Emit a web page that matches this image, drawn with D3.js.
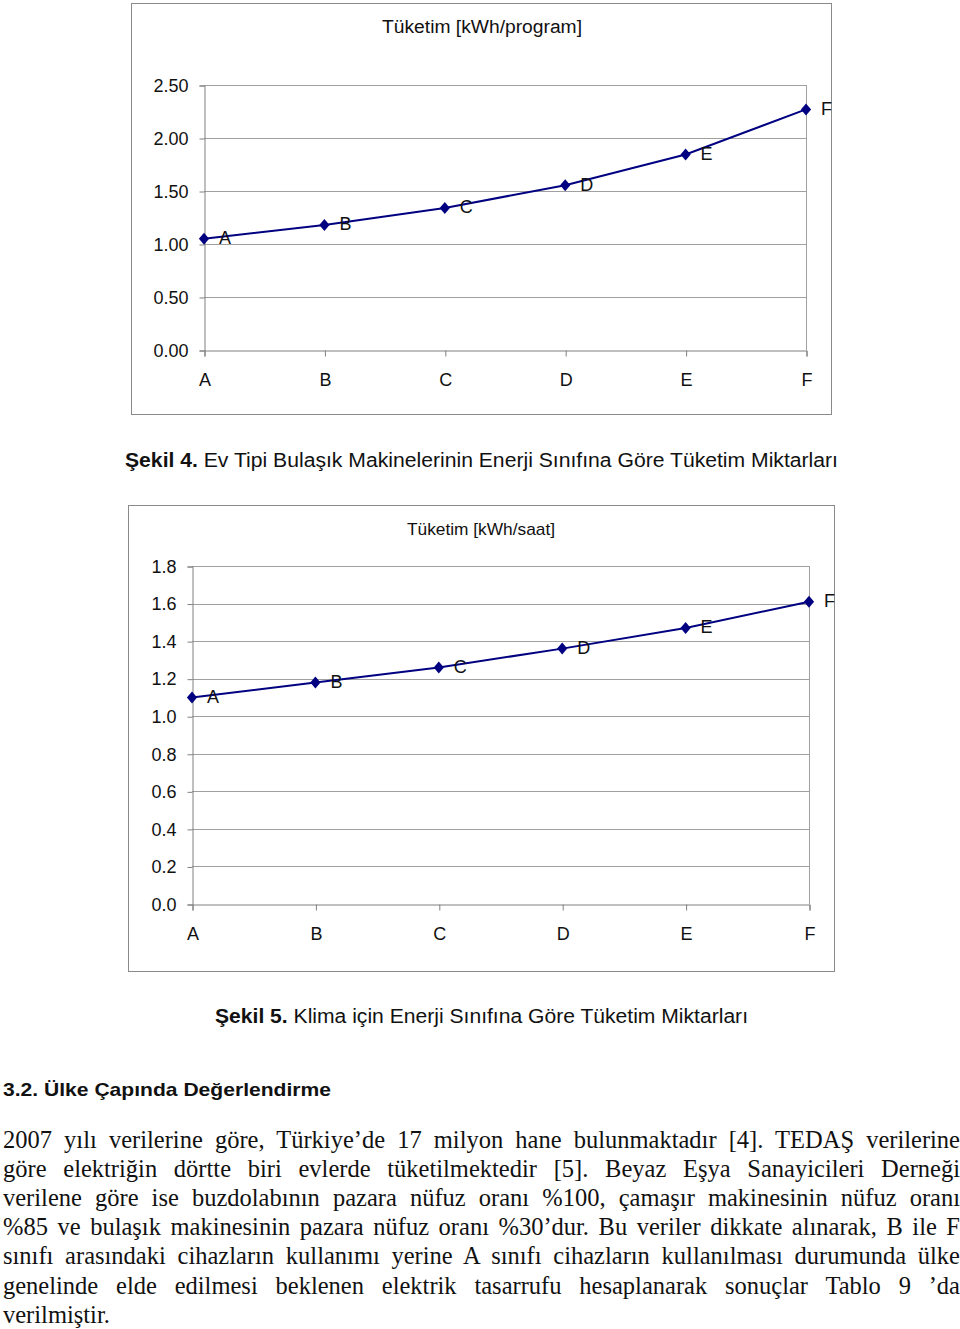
<!DOCTYPE html>
<html><head><meta charset="utf-8">
<script src="https://cdn.jsdelivr.net/npm/d3@7"></script>
<style>body{margin:0;background:#fff;}svg{display:block;}</style>
</head><body>
<svg id="page" width="960" height="1329"></svg>
<script>
const categories = ["A","B","C","D","E","F"];
const dishwasherValues = [1.05, 1.18, 1.34, 1.555, 1.845, 2.27];
const dishwasherTicks = [0, 0.5, 1.0, 1.5, 2.0, 2.5];
const acValues = [1.10, 1.18, 1.26, 1.36, 1.47, 1.61];
const acTicks = [0, 0.2, 0.4, 0.6, 0.8, 1.0, 1.2, 1.4, 1.6, 1.8];

const caption4 = ["Şekil 4.", " Ev Tipi Bulaşık Makinelerinin Enerji Sınıfına Göre Tüketim Miktarları"];
const caption5 = ["Şekil 5.", " Klima için Enerji Sınıfına Göre Tüketim Miktarları"];
const heading = "3.2. Ülke Çapında Değerlendirme";
const paragraph = [
 "2007 yılı verilerine göre, Türkiye’de 17 milyon hane bulunmaktadır [4]. TEDAŞ verilerine",
 "göre elektriğin dörtte biri evlerde tüketilmektedir [5]. Beyaz Eşya Sanayicileri Derneği",
 "verilene göre ise buzdolabının pazara nüfuz oranı %100, çamaşır makinesinin nüfuz oranı",
 "%85 ve bulaşık makinesinin pazara nüfuz oranı %30’dur. Bu veriler dikkate alınarak, B ile F",
 "sınıfı arasındaki cihazların kullanımı yerine A sınıfı cihazların kullanılması durumunda ülke",
 "genelinde elde edilmesi beklenen elektrik tasarrufu hesaplanarak sonuçlar Tablo 9 ’da",
 "verilmiştir."
];

const svg = d3.select("#page");
const sans = "'Liberation Sans', Arial, sans-serif";
const serif = "'Liberation Serif', 'Times New Roman', serif";

const diamondType = {
  draw(ctx, size) {
    const h = Math.sqrt(size) / 2;
    const w = h * 0.85;
    ctx.moveTo(0, -h); ctx.lineTo(w, 0); ctx.lineTo(0, h); ctx.lineTo(-w, 0); ctx.closePath();
  }
};

function chart(cfg) {
  const g = svg.append("g");
  g.append("rect").attr("x", cfg.box[0]+0.5).attr("y", cfg.box[1]+0.5)
    .attr("width", cfg.box[2]).attr("height", cfg.box[3])
    .attr("fill", "#fff").attr("stroke", "#8a8a8a").attr("stroke-width", 1);
  const x = d3.scalePoint().domain(categories).range([cfg.left, cfg.right]).padding(0);
  const y = d3.scaleLinear().domain([0, cfg.max]).range([cfg.bottom, cfg.top]);
  g.append("g").selectAll("line").data(cfg.ticks.slice(1)).join("line")
    .attr("x1", cfg.left).attr("x2", cfg.right)
    .attr("y1", d => Math.round(y(d))+0.5).attr("y2", d => Math.round(y(d))+0.5)
    .attr("stroke", "#a0a0a0").attr("stroke-width", 1);
  g.append("line").attr("x1", cfg.right+0.5).attr("x2", cfg.right+0.5)
    .attr("y1", y(cfg.max)).attr("y2", cfg.bottom).attr("stroke", "#a0a0a0");
  const ya = d3.axisLeft(y).tickValues(cfg.ticks).tickFormat(d3.format(cfg.fmt)).tickSize(5).tickPadding(11);
  const yg = g.append("g").attr("transform", `translate(${cfg.left+0.5},0.5)`).call(ya);
  yg.select(".domain").attr("stroke", "#808080");
  yg.selectAll(".tick line").attr("stroke", "#808080");
  yg.selectAll("text").attr("font-family", sans).attr("font-size", 18).attr("fill", "#111").attr("dy", "0.32em");
  const xa = d3.axisBottom(x).tickSize(6).tickPadding(17);
  const xg = g.append("g").attr("transform", `translate(0.5,${cfg.bottom+0.5})`).call(xa);
  xg.select(".domain").attr("stroke", "#808080");
  xg.selectAll(".tick line").attr("stroke", "#808080");
  xg.selectAll("text").attr("font-family", sans).attr("font-size", 18).attr("fill", "#111");
  g.append("text").attr("x", cfg.titleX).attr("y", cfg.titleY).attr("text-anchor", "middle")
    .attr("font-family", sans).attr("font-size", cfg.titleSize).attr("fill", "#111")
    .attr("textLength", cfg.titleLen).attr("lengthAdjust", "spacingAndGlyphs").text(cfg.title);
  const data = categories.map((c, i) => ({c, v: cfg.values[i]}));
  g.append("path").datum(data)
    .attr("d", d3.line().x(d => x(d.c)).y(d => y(d.v)))
    .attr("fill", "none").attr("stroke", "#000080").attr("stroke-width", 2);
  g.selectAll(".mk").data(data).join("path")
    .attr("transform", d => `translate(${x(d.c)},${y(d.v)})`)
    .attr("d", d3.symbol(diamondType, 144)())
    .attr("fill", "#000080");
  g.selectAll(".lbl").data(data).join("text")
    .attr("x", d => x(d.c) + 15).attr("y", d => y(d.v) + 5.5)
    .attr("font-family", sans).attr("font-size", 18).attr("fill", "#111")
    .text(d => d.c);
}

chart({box:[131,3,700,411], left:204, right:806, top:85, bottom:350, max:2.5,
  ticks: dishwasherTicks, values: dishwasherValues, fmt: ".2f",
  title: "Tüketim [kWh/program]", titleX: 482, titleY: 33, titleSize: 18, titleLen: 200});
chart({box:[128,505,706,466], left:192, right:809, top:566, bottom:904, max:1.8,
  ticks: acTicks, values: acValues, fmt: ".1f",
  title: "Tüketim [kWh/saat]", titleX: 481, titleY: 535, titleSize: 17, titleLen: 148});

function caption(parts, cx, yy, len) {
  const t = svg.append("text").attr("x", cx).attr("y", yy).attr("text-anchor", "middle")
    .attr("font-family", sans).attr("font-size", 20).attr("fill", "#111")
    .attr("textLength", len).attr("lengthAdjust", "spacingAndGlyphs");
  t.append("tspan").attr("font-weight", "bold").text(parts[0]);
  t.append("tspan").text(parts[1]);
}
caption(caption4, 481.5, 467, 713);
caption(caption5, 481.5, 1023, 533);

svg.append("text").attr("x", 3).attr("y", 1096).attr("font-family", sans)
  .attr("font-size", 19).attr("font-weight", "bold").attr("fill", "#111")
  .attr("textLength", 328).attr("lengthAdjust", "spacingAndGlyphs").text(heading);

const W = 957;
paragraph.forEach((line, i) => {
  const t = svg.append("text").attr("x", 3).attr("y", 1148 + i * 29.1)
    .attr("font-family", serif).attr("font-size", 24.5).attr("fill", "#111")
    .attr("xml:space", "preserve").text(line);
  if (i < paragraph.length - 1) {
    const w = t.node().getComputedTextLength();
    const n = (line.match(/ /g) || []).length;
    if (w > W) {
      t.attr("textLength", W).attr("lengthAdjust", "spacingAndGlyphs");
    } else {
      t.attr("word-spacing", (W - w) / n);
    }
  }
});
</script>
</body></html>
